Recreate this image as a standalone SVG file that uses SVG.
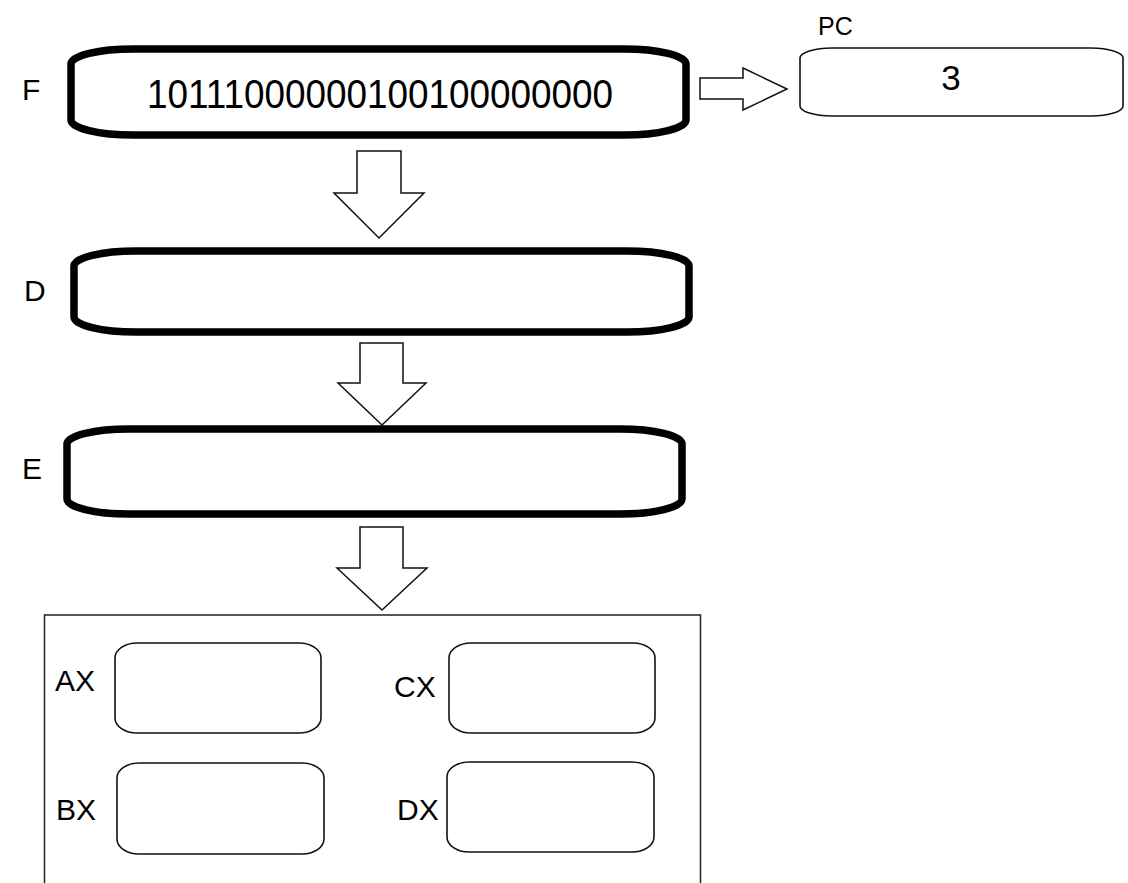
<svg xmlns="http://www.w3.org/2000/svg" width="1128" height="883" viewBox="0 0 1128 883">
  <style>
    .stage { fill: #fff; stroke: #000; stroke-width: 7.5; }
    .reg { fill: #fff; stroke: #111; stroke-width: 1.6; }
    .flow { fill: #fff; stroke: #111; stroke-width: 1.5; stroke-linejoin: miter; }
    .frame { fill: none; stroke: #222; stroke-width: 1.5; }
    text { font-family: "Liberation Sans", Arial, sans-serif; fill: #000; }
    .lbl { font-size: 30px; }
  </style>

  <rect width="1128" height="883" fill="#fff"/>

  <!-- pipeline stages -->
  <g id="fetch">
    <text class="lbl" x="22" y="100">F</text>
    <rect class="stage" x="71" y="49" width="615" height="86" rx="62" ry="15"/>
    <text x="147" y="108" font-size="40" textLength="466" lengthAdjust="spacingAndGlyphs">10111000000100100000000</text>
  </g>

  <g id="pc">
    <text x="818" y="35" font-size="25">PC</text>
    <rect class="reg" x="800" y="48" width="323" height="68" rx="32" ry="10"/>
    <text x="951" y="90" font-size="35" text-anchor="middle">3</text>
  </g>

  <g id="decode">
    <text class="lbl" x="24" y="301">D</text>
    <rect class="stage" x="74" y="251" width="615" height="81" rx="62" ry="15"/>
  </g>

  <g id="execute">
    <text class="lbl" x="22" y="479">E</text>
    <rect class="stage" x="67" y="429" width="615" height="85" rx="62" ry="15"/>
  </g>

  <!-- register file -->
  <g id="registers">
    <rect class="frame" x="44.5" y="615" width="656" height="280"/>
    <g id="ax">
      <text class="lbl" x="55" y="691">AX</text>
      <rect class="reg" x="115" y="643" width="206" height="90" rx="22" ry="15"/>
    </g>
    <g id="cx">
      <text class="lbl" x="394" y="697">CX</text>
      <rect class="reg" x="449" y="643" width="206" height="90" rx="22" ry="15"/>
    </g>
    <g id="bx">
      <text class="lbl" x="56" y="820">BX</text>
      <rect class="reg" x="117" y="763" width="207" height="91" rx="22" ry="15"/>
    </g>
    <g id="dx">
      <text class="lbl" x="397" y="820">DX</text>
      <rect class="reg" x="447" y="762" width="207" height="90" rx="22" ry="15"/>
    </g>
  </g>

  <!-- block arrows between stages -->
  <g id="connectors">
    <path class="flow" d="M700 78 H743 V68 L787 89 L743 110 V99 H700 Z"/>
    <path class="flow" d="M357 151 V193 H334 L379 238 L424 193 H401 V151 Z"/>
    <path class="flow" d="M360 343 V383 H338 L382 425 L426 383 H403 V343 Z"/>
    <path class="flow" d="M360 527 V568 H337 L382 610 L427 568 H403 V527 Z"/>
  </g>
</svg>
